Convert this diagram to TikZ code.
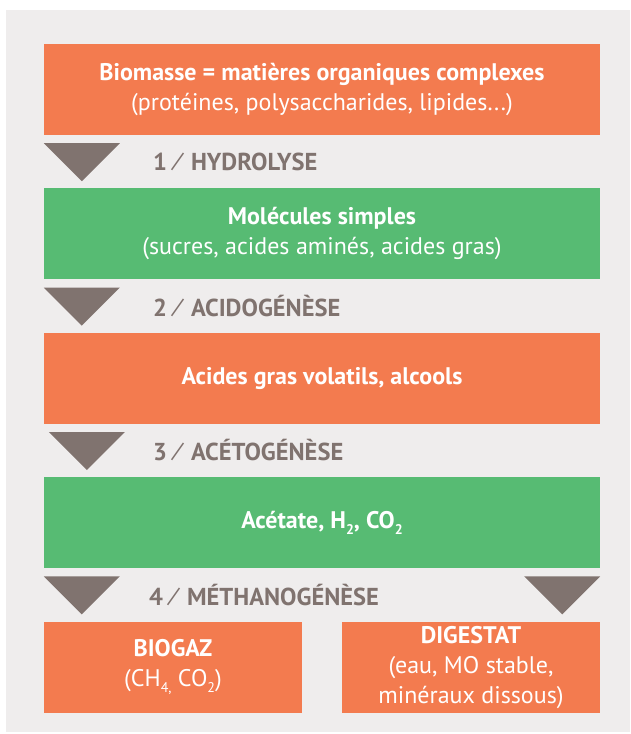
\documentclass[tikz,border=0pt]{standalone}
\usepackage{fontspec}
\setmainfont{PT Sans}
\usepackage{xcolor}
\definecolor{panelgray}{RGB}{239,237,237}
\definecolor{stageorange}{RGB}{243,123,79}
\definecolor{stagegreen}{RGB}{87,187,115}
\definecolor{stepgray}{RGB}{128,115,111}
\usepackage{tikz}
\usetikzlibrary{positioning,calc}
\newcommand{\lowsub}[1]{\raisebox{-0.5ex}{\fontsize{14}{14}\selectfont #1}}
\newcommand{\stepsep}{\hspace{0.35em}{\mdseries ⁄}\hspace{0.45em}}

\begin{document}
\begin{tikzpicture}[
    x=1pt, y=1pt,
    node distance=53pt,
    stage/.style={rectangle, draw=none, minimum width=556pt, minimum height=91pt, inner sep=0pt, align=center, text=white, font=\fontsize{24}{30}\selectfont},
    orangestage/.style={stage, fill=stageorange},
    greenstage/.style={stage, fill=stagegreen},
    product/.style={orangestage, minimum width=258pt},
    steplabel/.style={anchor=west, inner sep=0pt, text=stepgray, font=\fontsize{24.5}{26}\selectfont\bfseries},
    flow/.style={fill=stepgray}
]

\useasboundingbox (0,0) rectangle (630,-734);
\fill[panelgray] (6,-10) rectangle (630,-732);

\node[orangestage] (bio) at (322,-89.5) {\textbf{Biomasse = matières organiques complexes}\\(protéines, polysaccharides, lipides...)};
\node[greenstage, below=of bio] (mol) {\textbf{Molécules simples}\\(sucres, acides aminés, acides gras)};
\node[orangestage, below=of mol] (agv) {\textbf{Acides gras volatils, alcools}};
\node[greenstage, below=of agv] (ace) {\textbf{Acétate, H\lowsub{2}, CO\lowsub{2}}};
\node[product, below right=53pt and 0pt of ace.south west] (biogaz) {\textbf{BIOGAZ}\\(CH\lowsub{4,} CO\lowsub{2})};
\node[product, below left=53pt and 0pt of ace.south east] (digestat) {\textbf{DIGESTAT}\\(eau, MO stable,\\minéraux dissous)};

\node[steplabel] (hydro) at ($(bio.south west)!0.5!(mol.north west)+(109,0)$) {1\stepsep HYDROLYSE};
\node[steplabel] (acido) at ($(mol.south west)!0.5!(agv.north west)+(109,0)$) {2\stepsep ACIDOGÉNÈSE};
\node[steplabel] (aceto) at ($(agv.south west)!0.5!(ace.north west)+(109,0)$) {3\stepsep ACÉTOGÉNÈSE};
\node[steplabel] (metha) at ($(ace.south west)!0.5!(biogaz.north west)+(105,0)$) {4\stepsep MÉTHANOGÉNÈSE};

\fill[flow] ($(bio.south west)+(0,-8)$) -- ++(76,0) -- ++(-38,-38) -- cycle;
\fill[flow] ($(mol.south west)+(0,-8)$) -- ++(76,0) -- ++(-38,-38) -- cycle;
\fill[flow] ($(agv.south west)+(5,-8)$) -- ++(76,0) -- ++(-38,-38) -- cycle;
\fill[flow] ($(ace.south west)+(0,-8)$) -- ++(76,0) -- ++(-38,-38) -- cycle;
\fill[flow] ($(ace.south east)+(0,-8)$) -- ++(-76,0) -- ++(38,-38) -- cycle;

\end{tikzpicture}
\end{document}
